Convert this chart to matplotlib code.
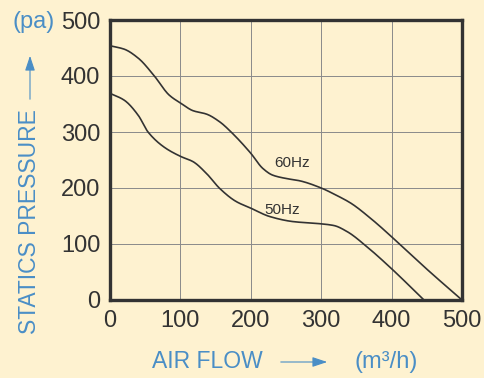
import numpy as np
import matplotlib
matplotlib.use("Agg")
import matplotlib.pyplot as plt

# 60Hz curve (air flow m3/h, static pressure pa)
flow_60 = [0, 20, 40, 63, 84, 101, 118, 137, 156, 172, 200, 217, 231, 250, 269, 300, 320, 342, 370, 413, 451, 500]
pres_60 = [454, 448, 432, 400, 366, 351, 338, 332, 318, 300, 262, 235, 223, 217, 213, 200, 188, 173, 146, 98, 54, 0]

# 50Hz curve
flow_50 = [0, 20, 40, 54, 78, 101, 118, 137, 156, 179, 200, 227, 260, 300, 318, 337, 365, 399, 446]
pres_50 = [369, 357, 330, 300, 272, 256, 247, 226, 199, 176, 164, 149, 140, 136, 133, 122, 95, 57, 0]

ticks = [0, 100, 200, 300, 400, 500]

bg = "#fef2d0"
blue = "#4a8ec6"
dark = "#333333"


def smooth(x, y, n=400):
    # monotone cubic (Fritsch-Carlson) just for drawing a smooth line
    x = np.asarray(x, float)
    y = np.asarray(y, float)
    h = np.diff(x)
    d = np.diff(y) / h
    m = np.zeros_like(y)
    m[0], m[-1] = d[0], d[-1]
    for i in range(1, len(y) - 1):
        if d[i - 1] * d[i] <= 0:
            m[i] = 0
        else:
            w1 = 2 * h[i] + h[i - 1]
            w2 = h[i] + 2 * h[i - 1]
            m[i] = (w1 + w2) / (w1 / d[i - 1] + w2 / d[i])
    xs = np.linspace(x[0], x[-1], n)
    k = np.clip(np.searchsorted(x, xs) - 1, 0, len(x) - 2)
    t = (xs - x[k]) / h[k]
    h00 = 2 * t**3 - 3 * t**2 + 1
    h10 = t**3 - 2 * t**2 + t
    h01 = -2 * t**3 + 3 * t**2
    h11 = t**3 - t**2
    ys = h00 * y[k] + h10 * h[k] * m[k] + h01 * y[k + 1] + h11 * h[k] * m[k + 1]
    return xs, ys


plt.rcParams['font.family'] = ['Liberation Sans', 'DejaVu Sans']

fig = plt.figure(figsize=(4.84, 3.78), dpi=100, facecolor=bg)
ax = fig.add_axes([110 / 484, 78 / 378, 352 / 484, 280 / 378])
ax.set_facecolor(bg)

ax.plot(*smooth(flow_60, pres_60), color=dark, lw=1.2)
ax.plot(*smooth(flow_50, pres_50), color=dark, lw=1.2)

ax.set_xlim(0, 500)
ax.set_ylim(0, 500)
ax.set_xticks(ticks)
ax.set_yticks(ticks)
ax.grid(color="#8a8a8a", lw=0.7)
ax.tick_params(length=0, labelsize=17, labelcolor=dark, pad=7)
for s in ax.spines.values():
    s.set_linewidth(2.4)
    s.set_color(dark)

ax.text(233, 245, "60Hz", fontsize=11, color=dark, va="center")
ax.text(219, 161, "50Hz", fontsize=11, color=dark, va="center")

# labels in blue
fig.text(12 / 484, 1 - 22 / 378, "(pa)", fontsize=17, color=blue, va="center", ha="left")
fig.text(30 / 484, 1 - 222 / 378, "STATICS PRESSURE", fontsize=16.5, color=blue,
         rotation=90, va="center", ha="center")
arrow = dict(arrowstyle="-|>,head_length=0.9,head_width=0.3", color=blue, lw=0.8)
ax.annotate("", xy=(30 / 484, 1 - 53 / 378), xytext=(30 / 484, 1 - 102 / 378),
            xycoords="figure fraction", textcoords="figure fraction", arrowprops=arrow)

fig.text(152 / 484, 1 - 362 / 378, "AIR FLOW", fontsize=16.5, color=blue, va="center", ha="left")
ax.annotate("", xy=(330 / 484, 1 - 362 / 378), xytext=(278 / 484, 1 - 362 / 378),
            xycoords="figure fraction", textcoords="figure fraction", arrowprops=arrow)
fig.text(354 / 484, 1 - 362 / 378, "(m³/h)", fontsize=17, color=blue, va="center", ha="left")

fig.savefig("out.png", dpi=100, facecolor=bg)
